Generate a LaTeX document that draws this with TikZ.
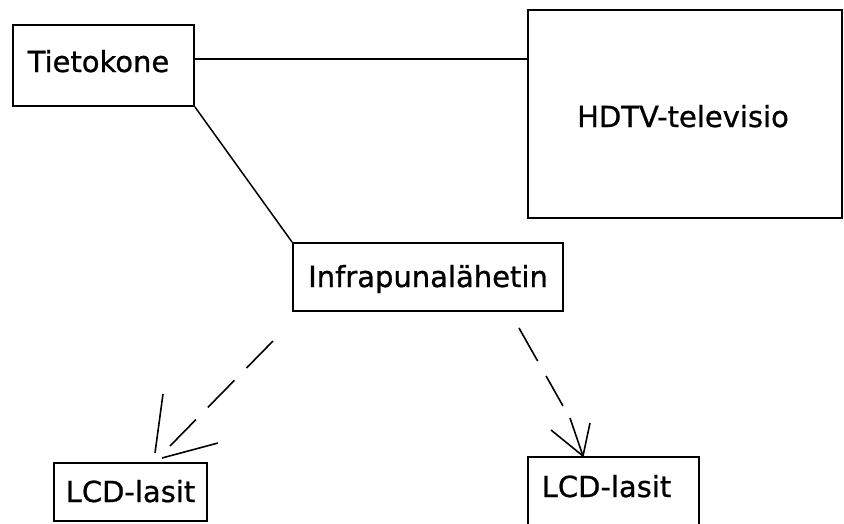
\documentclass[tikz,border=0pt]{standalone}
\usepackage{fontspec}
\setmainfont{DejaVu Sans}
\newfontfamily\boxfont{DejaVu Sans}[FakeBold=0.8]
\begin{document}
\begin{tikzpicture}[x=1pt,y=-1pt,
  box/.style={draw, line width=1.8pt, rectangle, inner sep=0pt, anchor=base,
    font=\fontsize{29}{30}\boxfont},
  wire/.style={line width=1.5pt},
  dashwire/.style={line width=1.6pt, dash pattern=on 38pt off 17pt},
  barb/.style={line width=1.6pt}]
\useasboundingbox[fill=white] (0,0) rectangle (844,523);

% devices
\node[box, minimum width=181pt, text height=47pt, text depth=34pt] (tk) at (103.5,72) {\hspace*{-10pt}Tietokone};
\node[box, minimum width=314pt, text height=117pt, text depth=91pt] (tv) at (685,127) {\hspace*{-4pt}HDTV-televisio};
\node[box, minimum width=270pt, text height=44pt, text depth=24pt] (ir) at (428,287) {Infrapunalähetin};
\node[box, minimum width=153pt, text height=39pt, text depth=19pt] (lcdA) at (130.5,502) {LCD-lasit};
\node[box, minimum width=171pt, text height=40pt, text depth=43pt] (lcdB) at (613.5,497) {LCD-lasit\hspace*{14pt}};

% cables
\draw[wire] ([yshift=6.5pt]tk.east) -- ([yshift=6.5pt]tk.east -| tv.west);
\draw[wire] (tk.south east) -- (ir.north west);

% infrared signal to the left glasses
\coordinate (sA) at (273,341);
\coordinate (eA) at (170,446);
\coordinate (tipA) at (162,458);
\draw[dashwire] (sA) -- (eA);
\draw[barb] (163,394) -- (155,453);
\draw[barb] (tipA) -- (218,443);

% infrared signal to the right glasses
\coordinate (sB) at (519,328);
\coordinate (eB) at (563,406);
\coordinate (tipB) at (583,456);
\draw[dashwire] (sB) -- (eB);
\draw[barb] (tipB) -- (551,430);
\draw[barb] (tipB) -- (570,418);
\draw[barb] (tipB) -- (590,423);
\end{tikzpicture}
\end{document}
